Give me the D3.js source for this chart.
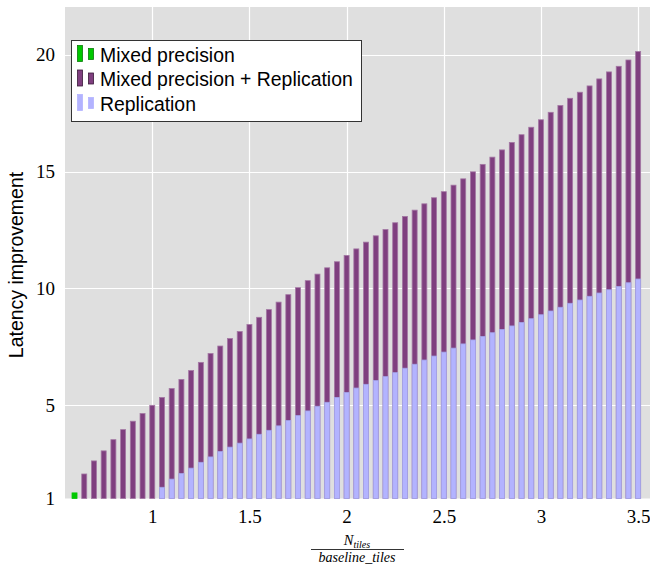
<!DOCTYPE html>
<html>
<head>
<meta charset="utf-8">
<script src="https://cdn.jsdelivr.net/npm/d3@7/dist/d3.min.js"></script>
<style>
    body { margin: 0; background: #ffffff; }
    svg { display: block; }
</style>
</head>
<body>
<svg id="chart"></svg>
<script>
var mixedRatios = [0.60];
var mixedVals = [1.24];

var combinedRatios = [0.65, 0.70, 0.75, 0.80, 0.85, 0.90, 0.95, 1.00, 1.05, 1.10,
    1.15, 1.20, 1.25, 1.30, 1.35, 1.40, 1.45, 1.50, 1.55, 1.60,
    1.65, 1.70, 1.75, 1.80, 1.85, 1.90, 1.95, 2.00, 2.05, 2.10,
    2.15, 2.20, 2.25, 2.30, 2.35, 2.40, 2.45, 2.50, 2.55, 2.60,
    2.65, 2.70, 2.75, 2.80, 2.85, 2.90, 2.95, 3.00, 3.05, 3.10,
    3.15, 3.20, 3.25, 3.30, 3.35, 3.40, 3.45, 3.50];
var combinedVals = [2.05, 2.61, 3.04, 3.52, 3.95, 4.31, 4.64, 4.99, 5.33, 5.71,
    6.10, 6.48, 6.83, 7.21, 7.53, 7.85, 8.15, 8.45, 8.76, 9.09,
    9.41, 9.73, 10.03, 10.33, 10.61, 10.88, 11.14, 11.41, 11.69, 11.98,
    12.25, 12.52, 12.81, 13.08, 13.35, 13.62, 13.88, 14.14, 14.42, 14.69,
    14.99, 15.31, 15.62, 15.93, 16.25, 16.58, 16.90, 17.22, 17.54, 17.83,
    18.14, 18.40, 18.67, 18.97, 19.27, 19.51, 19.78, 20.14];

var replRatios = [1.05, 1.10, 1.15, 1.20, 1.25, 1.30, 1.35, 1.40, 1.45, 1.50,
    1.55, 1.60, 1.65, 1.70, 1.75, 1.80, 1.85, 1.90, 1.95, 2.00,
    2.05, 2.10, 2.15, 2.20, 2.25, 2.30, 2.35, 2.40, 2.45, 2.50,
    2.55, 2.60, 2.65, 2.70, 2.75, 2.80, 2.85, 2.90, 2.95, 3.00,
    3.05, 3.10, 3.15, 3.20, 3.25, 3.30, 3.35, 3.40, 3.45, 3.50];
var replVals = [1.48, 1.83, 2.07, 2.30, 2.55, 2.78, 3.01, 3.20, 3.37, 3.55,
    3.75, 3.92, 4.11, 4.34, 4.55, 4.75, 4.95, 5.12, 5.33, 5.54,
    5.73, 5.89, 6.05, 6.22, 6.39, 6.58, 6.75, 6.93, 7.10, 7.27,
    7.44, 7.62, 7.79, 7.94, 8.10, 8.24, 8.39, 8.54, 8.70, 8.87,
    9.03, 9.19, 9.36, 9.50, 9.66, 9.80, 9.94, 10.08, 10.24, 10.40];

var xTicks = [1, 1.5, 2, 2.5, 3, 3.5];
var yTicks = [1, 5, 10, 15, 20];

var legendLabels = ['Mixed precision', 'Mixed precision + Replication', 'Replication'];

var colors = {
    mixed: '#00c800', mixedEdge: '#0a7a0a',
    combined: '#7f3f7f', combinedEdge: '#a478a4',
    repl: '#b3b3ff', replEdge: '#a3a3e6'
};

var W = 650, H = 569;
var plot = {left: 65, right: 650, top: 7, bottom: 498.5};
var barW = 5;

var svg = d3.select('#chart')
    .attr('width', W)
    .attr('height', H);

var x = d3.scaleLinear()
    .domain([0.551, 3.561])
    .range([plot.left, plot.right]);

var y = d3.scaleLinear()
    .domain([1, 22.05])
    .range([plot.bottom, plot.top]);

// background + grid
svg.append('rect')
    .attr('x', plot.left)
    .attr('y', plot.top)
    .attr('width', plot.right - plot.left)
    .attr('height', plot.bottom - plot.top)
    .attr('fill', '#dfdfdf');

var grid = svg.append('g').attr('class', 'grid');
grid.selectAll('line.v')
    .data(xTicks)
    .enter().append('line')
    .attr('class', 'v')
    .attr('x1', function(d) {return Math.round(x(d)) + 0.5;})
    .attr('x2', function(d) {return Math.round(x(d)) + 0.5;})
    .attr('y1', plot.top)
    .attr('y2', plot.bottom)
    .attr('stroke', '#ffffff')
    .attr('stroke-width', 1.2);
grid.selectAll('line.h')
    .data(yTicks.filter(function(d) {return d > 1;}))
    .enter().append('line')
    .attr('class', 'h')
    .attr('x1', plot.left)
    .attr('x2', plot.right)
    .attr('y1', function(d) {return Math.round(y(d)) + 0.5;})
    .attr('y2', function(d) {return Math.round(y(d)) + 0.5;})
    .attr('stroke', '#ffffff')
    .attr('stroke-width', 1.2);

// bars
function drawBars(cls, ratios, vals, fill, edge) {
    svg.append('g')
        .attr('class', cls)
        .selectAll('rect')
        .data(ratios.map(function(r, i) {return {r: r, v: vals[i]};}))
        .enter().append('rect')
        .attr('x', function(d) {return x(d.r) - barW / 2;})
        .attr('y', function(d) {return y(d.v);})
        .attr('width', barW)
        .attr('height', function(d) {return plot.bottom - y(d.v);})
        .attr('fill', fill)
        .attr('stroke', edge)
        .attr('stroke-width', 0.8);
}
drawBars('combined', combinedRatios, combinedVals, colors.combined, colors.combinedEdge);
drawBars('repl', replRatios, replVals, colors.repl, colors.replEdge);
drawBars('mixed', mixedRatios, mixedVals, colors.mixed, colors.mixed);

// axes (labels only, no lines)
var xAxis = svg.append('g')
    .attr('transform', 'translate(0,' + (plot.bottom + 8) + ')')
    .call(d3.axisBottom(x).tickValues(xTicks).tickSize(0).tickFormat(d3.format('')));
var yAxis = svg.append('g')
    .attr('transform', 'translate(' + (plot.left - 7) + ',0)')
    .call(d3.axisLeft(y).tickValues(yTicks).tickSize(0));
[xAxis, yAxis].forEach(function(a) {
    a.select('.domain').remove();
    a.selectAll('text')
        .attr('font-family', '"Liberation Serif", "DejaVu Serif", serif')
        .attr('font-size', '19px')
        .attr('fill', '#000');
});

// y label
svg.append('text')
    .attr('transform', 'translate(23,' + 265 + ') rotate(-90)')
    .attr('text-anchor', 'middle')
    .attr('font-family', '"Liberation Sans", Arial, sans-serif')
    .attr('font-size', '19.5px')
    .text('Latency improvement');

// x label as fraction
var frac = svg.append('g')
    .attr('font-family', '"Liberation Serif", "DejaVu Serif", serif')
    .attr('font-style', 'italic');
var num = frac.append('text')
    .attr('x', 357)
    .attr('y', 545)
    .attr('text-anchor', 'middle')
    .attr('font-size', '14.5px');
num.append('tspan').text('N');
num.append('tspan')
    .attr('font-size', '10px')
    .attr('dy', 3)
    .text('tiles');
frac.append('line')
    .attr('x1', 311)
    .attr('x2', 404)
    .attr('y1', 549.5)
    .attr('y2', 549.5)
    .attr('stroke', '#000')
    .attr('stroke-width', 0.8);
frac.append('text')
    .attr('x', 357)
    .attr('y', 561.5)
    .attr('text-anchor', 'middle')
    .attr('font-size', '14px')
    .text('baseline_tiles');

// legend
var legend = svg.append('g').attr('class', 'legend');
legend.append('rect')
    .attr('x', 71.5)
    .attr('y', 40.5)
    .attr('width', 290)
    .attr('height', 81)
    .attr('fill', '#ffffff')
    .attr('stroke', '#333')
    .attr('stroke-width', 1);

var legendFills = [[colors.mixed, colors.mixedEdge], [colors.combined, '#3a1a3a'], [colors.repl, colors.repl]];
legendLabels.forEach(function(lbl, i) {
    var cy = 55 + i * 24.5;
    legend.append('rect')
        .attr('x', 77.5).attr('y', cy - 9.5)
        .attr('width', 5).attr('height', 16)
        .attr('fill', legendFills[i][0])
        .attr('stroke', legendFills[i][1])
        .attr('stroke-width', 0.8);
    legend.append('rect')
        .attr('x', 88.5).attr('y', cy - 6.5)
        .attr('width', 5).attr('height', 11)
        .attr('fill', legendFills[i][0])
        .attr('stroke', legendFills[i][1])
        .attr('stroke-width', 0.8);
    legend.append('text')
        .attr('x', 100)
        .attr('y', cy + 6.5)
        .attr('font-family', '"Liberation Sans", Arial, sans-serif')
        .attr('font-size', '19.4px')
        .text(lbl);
});
</script>
</body>
</html>
